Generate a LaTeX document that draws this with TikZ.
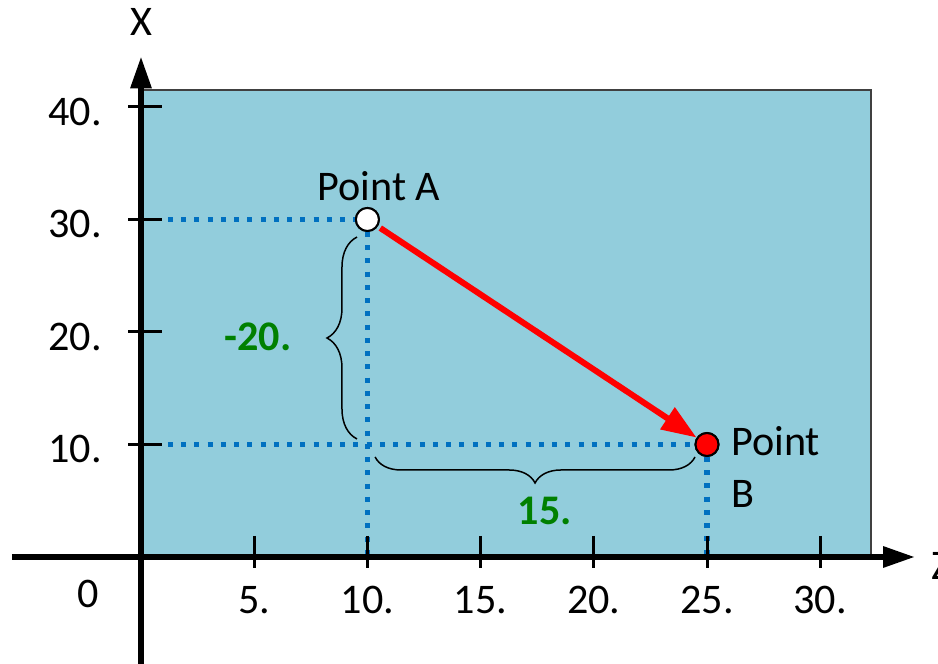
\documentclass[tikz,border=0pt]{standalone}
\usepackage{fontspec}
\setmainfont{Carlito}
\usetikzlibrary{arrows.meta,decorations.pathreplacing}
\definecolor{plotbg}{HTML}{92CDDC}
\definecolor{guideblue}{HTML}{0070C0}
\definecolor{deltagreen}{HTML}{008000}

\begin{document}
\begin{tikzpicture}[
    x=0.4528cm, y=0.225cm,
    font=\fontsize{24}{29.5}\selectfont,
    axisline/.style={line width=0.12cm, -{Triangle[length=0.64cm,width=0.4cm]}},
    ticmark/.style={line width=0.06cm},
    guide/.style={guideblue, line width=0.11cm, dash pattern=on 0.1cm off 0.165cm},
    ptmark/.style={circle, draw, line width=0.04cm, minimum size=0.46cm, inner sep=0},
    move/.style={red, line width=0.12cm, shorten <=0.06cm, -{Triangle[length=0.7cm,width=0.5cm]}},
    bracemark/.style={decorate, decoration={brace, amplitude=#1}, line width=0.03cm},
    delta/.style={deltagreen, font=\fontsize{24}{27}\selectfont\bfseries}
]
\useasboundingbox (-6.228,-9.511) rectangle (35.203,49.51);

% Plot area
\filldraw[fill=plotbg, draw=black!75, line width=0.03cm] (0.09,0) rectangle (32.24,41.51);

% Guides
\coordinate (gA) at (1.19,30);
\coordinate (gB) at (1.19,10);
\coordinate (fA) at (10,0);
\coordinate (fB) at (25,0);

% Points
\node[ptmark, fill=white] (ptA) at (10,30) {};
\node[ptmark, fill=red] (ptB) at (25,10) {};

\draw[guide] (gA) -- (ptA.west);
\draw[guide] (gB) -- (ptB.west);
\draw[guide] (ptA.south) -- (fA);
\draw[guide] (ptB.south) -- (fB);

% Axes
\coordinate (zstart) at (-5.7,0);
\coordinate (zend) at (34.19,0);
\coordinate (xstart) at (0,-9.8);
\coordinate (xend) at (0,44.5);
\draw[axisline] (zstart) -- (zend);
\draw[axisline] (xstart) -- (xend);
\node (zlabel) at (35.34,-0.8) {Z};
\node (xlabel) at (0,47.56) {X};
\node (orig) at (-2.34,-3.29) {0};

\foreach \z in {5,10,...,30} {
  \draw[ticmark] (\z,1.87) -- (\z,-0.98);
  \node (zt\z) at (\z,-3.82) {\z.};
}
\foreach \x in {10,20,30,40} {
  \draw[ticmark] (-0.57,\x) -- (0.93,\x);
  \node[anchor=east] (xt\x) at (-1.45,\x-0.44) {\x.};
}

% Movement
\draw[move] (ptA) -- (ptB);
\node[ptmark, fill=white] at (ptA) {};
\node[ptmark, fill=red] at (ptB) {};

% Braces
\coordinate (bA1) at (9.54,10.49);
\coordinate (bA2) at (9.54,28.44);
\coordinate (bB1) at (24.47,8.89);
\coordinate (bB2) at (10.34,8.89);
\draw[bracemark=0.6cm] (bA1) -- (bA2);
\draw[bracemark=0.52cm] (bB1) -- (bB2);
\node[delta] (dx) at (5.17,19.56) {-20.};
\node[delta] (dz) at (17.84,4.09) {15.};

% Labels
\node (lblA) at (10.51,32.98) {Point A};
\node[anchor=west, align=left, inner sep=0] (lblB) at (26.06,8.0) {Point\\B};
\end{tikzpicture}
\end{document}
